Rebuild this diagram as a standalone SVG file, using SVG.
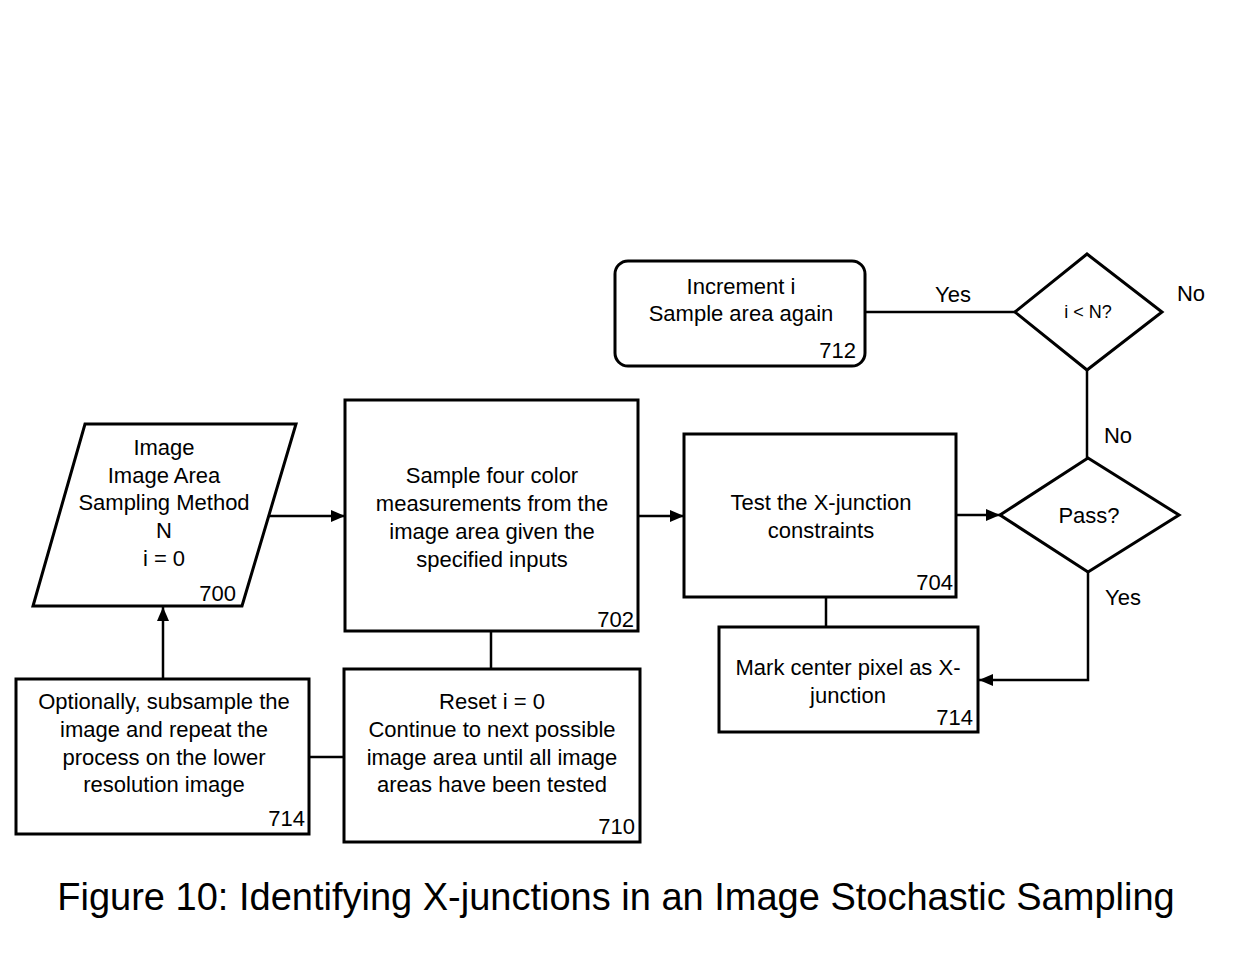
<svg xmlns="http://www.w3.org/2000/svg" width="1259" height="955" viewBox="0 0 1259 955">
<style>
.n{fill:#fff;stroke:#000;stroke-width:3}
.t{font-family:"Liberation Sans",Arial,sans-serif;font-size:22px;fill:#000;text-anchor:middle}
.r{font-family:"Liberation Sans",Arial,sans-serif;font-size:22px;fill:#000;text-anchor:end}
.c{fill:none;stroke:#000;stroke-width:2.5}
</style>
<defs>
<marker id="a" viewBox="0 0 14 12" refX="14" refY="6" markerWidth="14" markerHeight="12" orient="auto" markerUnits="userSpaceOnUse">
<path d="M0,0 L14,6 L0,12 z" fill="#000"/>
</marker>
</defs>
<rect width="1259" height="955" fill="#fff"/>
<g id="connectors">
<line class="c" x1="865" y1="312" x2="1015" y2="312"/>
<line class="c" x1="1087" y1="370" x2="1087" y2="458"/>
<polyline class="c" points="1088,572 1088,680 979,680" marker-end="url(#a)"/>
<line class="c" x1="268" y1="516" x2="345" y2="516" marker-end="url(#a)"/>
<line class="c" x1="638" y1="516" x2="684" y2="516" marker-end="url(#a)"/>
<line class="c" x1="956" y1="515" x2="1000" y2="515" marker-end="url(#a)"/>
<line class="c" x1="826" y1="597" x2="826" y2="628"/>
<line class="c" x1="491" y1="631" x2="491" y2="669"/>
<line class="c" x1="309" y1="757" x2="344" y2="757"/>
<line class="c" x1="163" y1="679" x2="163" y2="607" marker-end="url(#a)"/>
<text class="t" x="953" y="302">Yes</text>
<text class="t" x="1191" y="301">No</text>
<text class="t" x="1118" y="443">No</text>
<text class="t" x="1123" y="605">Yes</text>
</g>
<g id="n712">
<rect class="n" x="615" y="261" width="250" height="105" rx="13"/>
<text class="t" x="741" y="294">Increment i</text>
<text class="t" x="741" y="321">Sample area again</text>
<text class="r" x="856" y="358">712</text>
</g>
<g id="dN">
<polygon class="n" points="1015,312 1087,254 1162,312 1087,370"/>
<text class="t" x="1088" y="318" style="font-size:18px">i &lt; N?</text>
</g>
<g id="dPass">
<polygon class="n" points="1000,515 1088,458 1179,515 1088,572"/>
<text class="t" x="1089" y="523">Pass?</text>
</g>
<g id="n700">
<polygon class="n" points="85,424 296,424 242,606 33,606"/>
<text class="t" x="164" y="455">Image</text>
<text class="t" x="164" y="483">Image Area</text>
<text class="t" x="164" y="510">Sampling Method</text>
<text class="t" x="164" y="538">N</text>
<text class="t" x="164" y="566">i = 0</text>
<text class="r" x="236" y="601">700</text>
</g>
<g id="n702">
<rect class="n" x="345" y="400" width="293" height="231"/>
<text class="t" x="492" y="483">Sample four color</text>
<text class="t" x="492" y="511">measurements from the</text>
<text class="t" x="492" y="539">image area given the</text>
<text class="t" x="492" y="567">specified inputs</text>
<text class="r" x="634" y="627">702</text>
</g>
<g id="n704">
<rect class="n" x="684" y="434" width="272" height="163"/>
<text class="t" x="821" y="510">Test the X-junction</text>
<text class="t" x="821" y="538">constraints</text>
<text class="r" x="953" y="590">704</text>
</g>
<g id="n714b">
<rect class="n" x="719" y="627" width="259" height="105"/>
<text class="t" x="848" y="675">Mark center pixel as X-</text>
<text class="t" x="848" y="703">junction</text>
<text class="r" x="973" y="725">714</text>
</g>
<g id="n710">
<rect class="n" x="344" y="669" width="296" height="173"/>
<text class="t" x="492" y="709">Reset i = 0</text>
<text class="t" x="492" y="737">Continue to next possible</text>
<text class="t" x="492" y="765">image area until all image</text>
<text class="t" x="492" y="792">areas have been tested</text>
<text class="r" x="635" y="834">710</text>
</g>
<g id="n714a">
<rect class="n" x="16" y="679" width="293" height="155"/>
<text class="t" x="164" y="709">Optionally, subsample the</text>
<text class="t" x="164" y="737">image and repeat the</text>
<text class="t" x="164" y="765">process on the lower</text>
<text class="t" x="164" y="792">resolution image</text>
<text class="r" x="305" y="826">714</text>
</g>
<text x="616" y="910" style="font-family:'Liberation Sans',Arial,sans-serif;font-size:38px;text-anchor:middle">Figure 10: Identifying X-junctions in an Image Stochastic Sampling</text>
</svg>
